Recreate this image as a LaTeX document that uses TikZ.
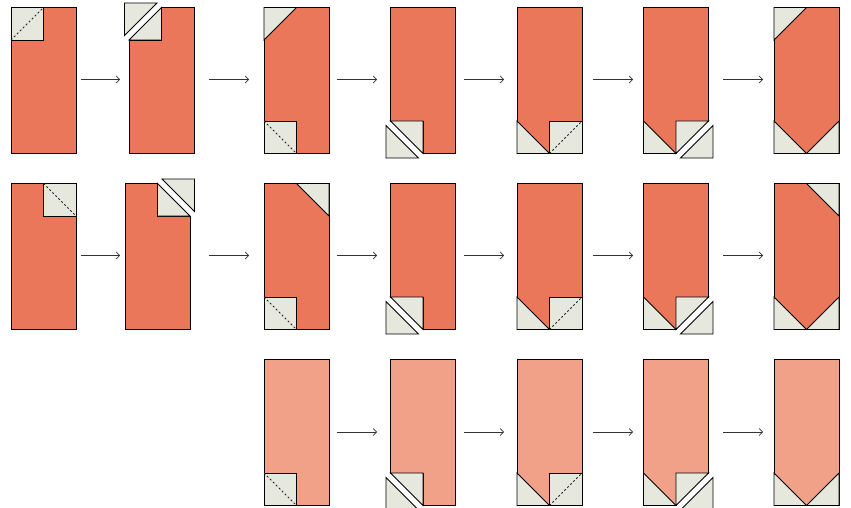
\documentclass[tikz,border=0pt]{standalone}
\usetikzlibrary{arrows.meta}
\definecolor{fabric}{HTML}{EB775A}
\definecolor{fabricl}{HTML}{F1A187}
\definecolor{bgcol}{HTML}{E6E8DD}
\tikzset{
  fab/.style={fill=fabric, draw=black, line width=0.9pt},
  fabl/.style={fill=fabricl, draw=black, line width=0.9pt},
  bg/.style={fill=bgcol, draw=black, line width=0.9pt},
  seam/.style={draw=black!85, line width=0.9pt, dash pattern=on 2pt off 2.2pt},
  arr/.style={draw=black!80, line width=0.7pt, -{Straight Barb[length=3.5pt,width=7pt]}}
}
\newcommand\qrect[1]{\path[#1] (0,0) rectangle (65,146);}
\newcommand\qsqBL{\path[bg] (0,113.5) rectangle (32.5,146); \path[seam] (0,113.5) -- (32.5,146);}
\newcommand\qtriBL{\path[bg] (0,113.5) -- (32.5,146) -- (0,146) -- cycle;}
\newcommand\qtriBR{\path[bg] (65,113.5) -- (65,146) -- (32.5,146) -- cycle;}
\newcommand\qtriTL{\path[bg] (0,0) -- (32.5,0) -- (0,32.5) -- cycle;}
\newcommand\qtriTR{\path[bg] (32.5,0) -- (65,0) -- (65,32.5) -- cycle;}
\newcommand\qsqBR{\path[bg] (32.5,113.5) rectangle (65,146); \path[seam] (32.5,146) -- (65,113.5);}
\newcommand\qcutBL[1]{%
  \path[#1] (0,0) -- (65,0) -- (65,146) -- (32.5,146) -- (32.5,113.5) -- (0,113.5) -- cycle;
  \path[bg] (0,113.5) -- (32.5,113.5) -- (32.5,146) -- cycle;
  \path[bg] (-4.5,118) -- (28,150.5) -- (-4.5,150.5) -- cycle;}
\newcommand\qcutBR[1]{%
  \path[#1] (0,0) -- (65,0) -- (65,113.5) -- (32.5,113.5) -- (32.5,146) -- (0,146) -- cycle;
  \qtriBL
  \path[bg] (32.5,113.5) -- (65,113.5) -- (32.5,146) -- cycle;
  \path[bg] (69.5,118) -- (69.5,150.5) -- (37,150.5) -- cycle;}
\begin{document}
\begin{tikzpicture}[x=1pt,y=-1pt,line join=miter]
\useasboundingbox (0,0) rectangle (851,508);
% ---------- Row 1 ----------
\begin{scope}[shift={(11,7.5)}]
  \qrect{fab}
  \path[bg] (0,0) rectangle (32.5,32.5);
  \path[seam] (0,32.5) -- (32.5,0);
\end{scope}
\begin{scope}[shift={(129,7.5)}]
  \path[fab] (32.5,0) -- (65,0) -- (65,146) -- (0,146) -- (0,32.5) -- (32.5,32.5) -- cycle;
  \path[bg] (0,32.5) -- (32.5,32.5) -- (32.5,0) -- cycle;
  \path[bg] (-4.5,-4.5) -- (28,-4.5) -- (-4.5,28) -- cycle;
\end{scope}
\begin{scope}[shift={(264,7.5)}]
  \qrect{fab} \qtriTL \qsqBL
\end{scope}
\begin{scope}[shift={(390.5,7.5)}]
  \qcutBL{fab}
\end{scope}
\begin{scope}[shift={(517,7.5)}]
  \qrect{fab} \qtriBL \qsqBR
\end{scope}
\begin{scope}[shift={(643.5,7.5)}]
  \qcutBR{fab}
\end{scope}
\begin{scope}[shift={(774,7.5)}]
  \qrect{fab} \qtriTL \qtriBL \qtriBR
\end{scope}
% ---------- Row 2 ----------
\begin{scope}[shift={(11,183.5)}]
  \qrect{fab}
  \path[bg] (32.5,0) rectangle (65,32.5);
  \path[seam] (32.5,0) -- (65,32.5);
\end{scope}
\begin{scope}[shift={(125,183.5)}]
  \path[fab] (0,0) -- (32.5,0) -- (32.5,32.5) -- (65,32.5) -- (65,146) -- (0,146) -- cycle;
  \path[bg] (32.5,0) -- (32.5,32.5) -- (65,32.5) -- cycle;
  \path[bg] (37,-4.5) -- (69.5,-4.5) -- (69.5,28) -- cycle;
\end{scope}
\begin{scope}[shift={(264,183.5)}]
  \qrect{fab} \qtriTR \qsqBL
\end{scope}
\begin{scope}[shift={(390.5,183.5)}]
  \qcutBL{fab}
\end{scope}
\begin{scope}[shift={(517,183.5)}]
  \qrect{fab} \qtriBL \qsqBR
\end{scope}
\begin{scope}[shift={(643.5,183.5)}]
  \qcutBR{fab}
\end{scope}
\begin{scope}[shift={(774,183.5)}]
  \qrect{fab} \qtriTR \qtriBL \qtriBR
\end{scope}
% ---------- Row 3 ----------
\begin{scope}[shift={(264,359.5)}]
  \qrect{fabl} \qsqBL
\end{scope}
\begin{scope}[shift={(390.5,359.5)}]
  \qcutBL{fabl}
\end{scope}
\begin{scope}[shift={(517,359.5)}]
  \qrect{fabl} \qtriBL \qsqBR
\end{scope}
\begin{scope}[shift={(643.5,359.5)}]
  \qcutBR{fabl}
\end{scope}
\begin{scope}[shift={(774,359.5)}]
  \qrect{fabl} \qtriBL \qtriBR
\end{scope}
% ---------- Arrows ----------
\foreach \r/\yy in {1/79.5, 2/255.5} {
  \foreach \i/\xa/\xb in {1/81/120, 2/209/249, 3/337/377, 4/464/504, 5/593/633, 6/723/763} {
    \coordinate (s\r\i) at (\xa,\yy);
    \coordinate (e\r\i) at (\xb,\yy);
    \draw[arr] (s\r\i) -- (e\r\i);
  }
}
\foreach \i/\xa/\xb in {3/337/377, 4/464/504, 5/593/633, 6/723/763} {
  \coordinate (s3\i) at (\xa,432);
  \coordinate (e3\i) at (\xb,432);
  \draw[arr] (s3\i) -- (e3\i);
}
\end{tikzpicture}
\end{document}
